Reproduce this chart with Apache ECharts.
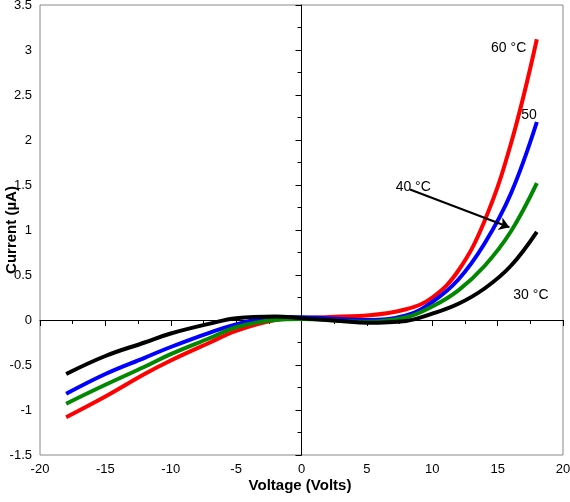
<!DOCTYPE html><html><head><meta charset="utf-8"><script src="https://cdn.jsdelivr.net/npm/echarts@6/dist/echarts.min.js"></script></head><body style="margin:0"><div id="c" style="width:570px;height:502px"></div><script>
const volts=[-18,-15,-12,-10,-7,-5,-2,0,3,5,8,10,12,14,16,18];
const red=[-1.08,-0.85,-0.6,-0.45,-0.25,-0.12,0.0,0.02,0.04,0.05,0.12,0.25,0.55,1.1,1.95,3.12];
const blue=[-0.82,-0.6,-0.42,-0.3,-0.14,-0.05,0.03,0.03,0.01,0.0,0.05,0.2,0.45,0.85,1.4,2.2];
const green=[-0.93,-0.72,-0.52,-0.38,-0.2,-0.08,0.0,0.01,-0.01,-0.02,0.03,0.15,0.33,0.6,0.98,1.52];
const black=[-0.6,-0.4,-0.25,-0.15,-0.04,0.02,0.04,0.02,-0.01,-0.03,-0.01,0.07,0.18,0.35,0.6,0.98];
const labels=[["60 °C",14.5,3.1],["50",16.8,2.35],["40 °C",7.2,1.55],["30 °C",16.2,0.35]];
const ch=echarts.init(document.getElementById('c'));
const mk=(d,c)=>({type:'line',smooth:0.4,symbol:'none',lineStyle:{width:4,color:c},data:volts.map((v,i)=>[v,d[i]])});
const s4=mk(black,'#000');
s4.markLine={silent:true,symbol:['none','arrow'],symbolSize:10,lineStyle:{color:'#000',width:2,type:'solid'},label:{show:false},data:[[{coord:[8.3,1.45]},{coord:[15.9,1.03]}]]};
ch.setOption({animation:false,
grid:{left:40,right:7,top:5,bottom:47,outerBoundsMode:'none',containLabel:false,show:true,borderColor:'#888',borderWidth:1},
xAxis:{type:'value',min:-20,max:20,interval:5,axisLine:{onZero:true,lineStyle:{color:'#000'}},axisTick:{length:6},minorTick:{show:true,splitNumber:2,length:4},splitLine:{show:false},axisLabel:{color:'#000',fontSize:13,fontFamily:'Arial'}},
yAxis:{type:'value',min:-1.5,max:3.5,interval:0.5,axisLine:{onZero:true,lineStyle:{color:'#000'}},axisTick:{length:6},minorTick:{show:true,splitNumber:2,length:4},splitLine:{show:false},axisLabel:{color:'#000',fontSize:13,fontFamily:'Arial'}},
series:[mk(red,'#f00'),mk(blue,'#00f'),mk(green,'#080'),s4]});
const g=labels.map(l=>{const p=ch.convertToPixel({gridIndex:0},[l[1],l[2]]);return{type:'text',x:p[0],y:p[1],style:{text:l[0],font:'14px Arial',fill:'#000'}};});
g.push({type:'text',x:300,y:478,style:{text:'Voltage (Volts)',font:'bold 15px Arial',fill:'#000',align:'center'}});
g.push({type:'text',x:4,y:230,rotation:Math.PI/2,style:{text:'Current (µA)',font:'bold 15px Arial',fill:'#000',align:'center',verticalAlign:'top'}});
ch.setOption({graphic:g});
</script></body></html>
